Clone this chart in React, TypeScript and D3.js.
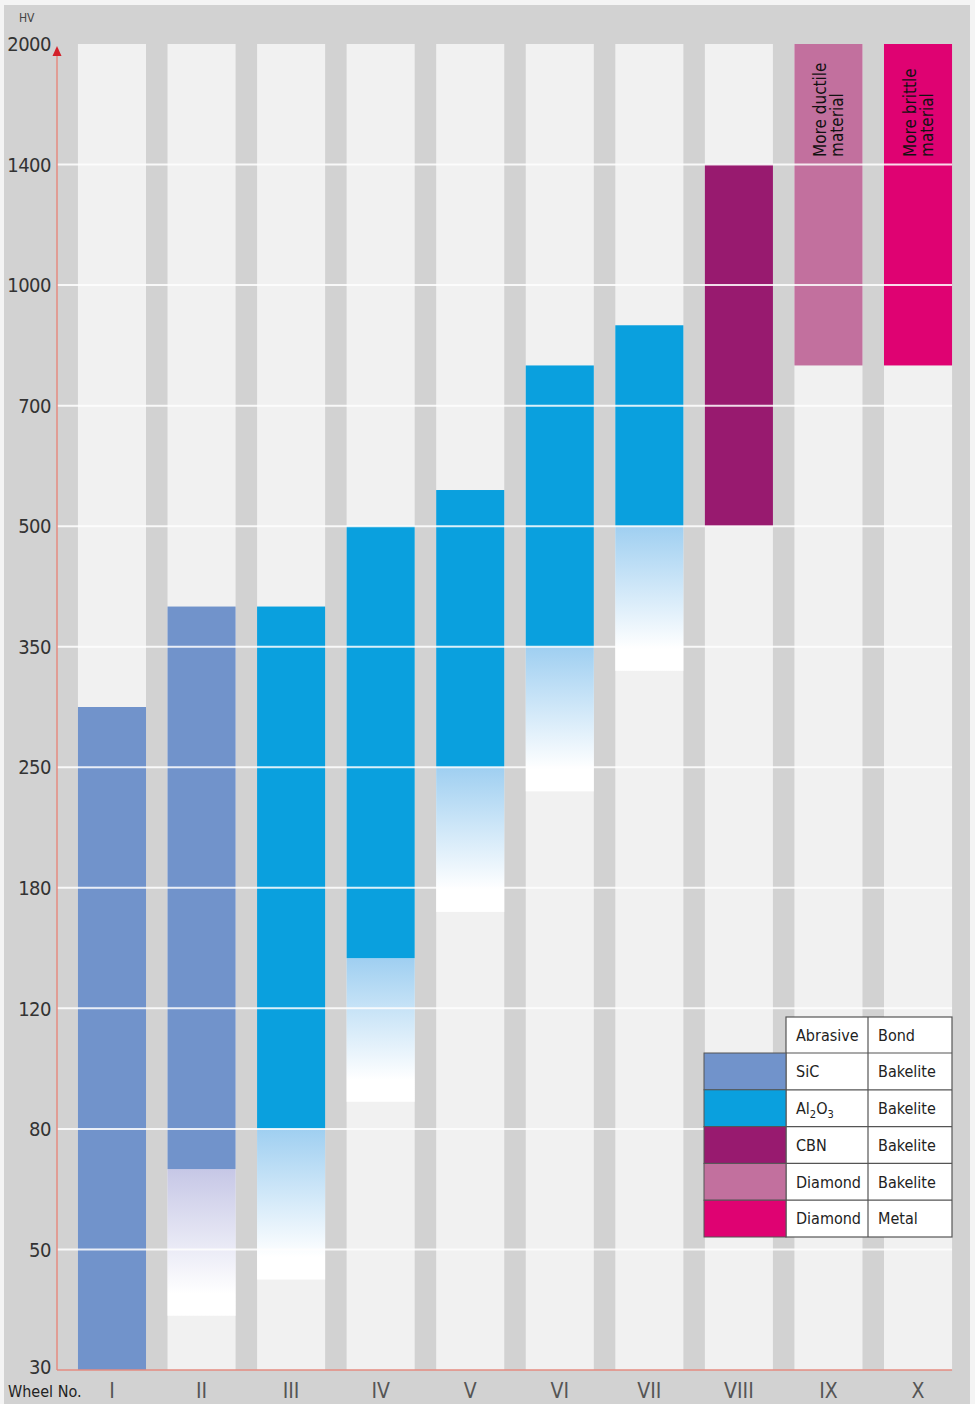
import React from "react";
import * as d3 from "d3";

const wheels = ["I", "II", "III", "IV", "V", "VI", "VII", "VIII", "IX", "X"];
const hvTicks = [30, 50, 80, 120, 180, 250, 350, 500, 700, 1000, 1400, 2000];
const wheelAbrasive = ["SiC", "SiC", "Al2O3", "Al2O3", "Al2O3", "Al2O3", "Al2O3", "CBN", "DiaB", "DiaM"];
const barLow = [30, 70, 80, 145, 250, 350, 500, 500, 800, 800];
const barHigh = [300, 400, 400, 500, 560, 800, 900, 1400, 2000, 2000];
const fadeLow: (number | null)[] = [null, 39, 45, 89, 168, 236, 330, null, null, null];

const legendKeys = ["SiC", "Al2O3", "CBN", "DiaB", "DiaM"];
const legendAbrasive = ["SiC", "Al2O3", "CBN", "Diamond", "Diamond"];
const legendBond = ["Bakelite", "Bakelite", "Bakelite", "Bakelite", "Metal"];

const colors: Record<string, string> = {
  SiC: "#7193cb",
  Al2O3: "#0aa0de",
  CBN: "#981a6f",
  DiaB: "#c2709e",
  DiaM: "#df0272",
};
const fadeColors: Record<string, string> = {
  SiC: "#c6c7e6",
  Al2O3: "#9fcff1",
};

const FONT = "'DejaVu Sans Condensed', 'DejaVu Sans', sans-serif";

export default function App() {
  const W = 975, H = 1404;
  const top = 44, bottom = 1370, axisX = 57;
  const tickPos = d3.scalePoint<number>().domain(hvTicks).range([bottom, top]);
  const y = d3.scaleLinear().domain(hvTicks).range(hvTicks.map((t) => tickPos(t) as number));
  const x = d3.scaleBand<string>().domain(wheels).range([67.2, 962.8]).paddingInner(0.24).paddingOuter(0.12);
  const bw = x.bandwidth();

  const legX0 = 704, legX1 = 786, legX2 = 868, legX3 = 952;
  const legTop = 1017, headerH = 36;
  const legRow = d3.scaleBand<number>().domain(legendKeys.map((_, i) => i)).range([legTop + headerH, 1237]);

  return (
    <svg width={W} height={H} style={{ position: "absolute", left: 0, top: 0, display: "block", fontStretch: "condensed" }} fontFamily={FONT}>
      <defs>
        {wheels.map((w, i) =>
          fadeLow[i] != null ? (
            <linearGradient key={w} id={`fade${i}`} x1="0" y1="0" x2="0" y2="1">
              <stop offset="0" stopColor={fadeColors[wheelAbrasive[i]]} />
              <stop offset="0.85" stopColor="#ffffff" />
              <stop offset="1" stopColor="#ffffff" />
            </linearGradient>
          ) : null
        )}
      </defs>
      <rect x={0} y={0} width={W} height={H} fill="#f4f4f4" />
      <rect x={4} y={5} width={966} height={H - 5} fill="#d2d2d2" />
      {wheels.map((w) => (
        <rect key={w} x={x(w)} y={top} width={bw} height={bottom - top} fill="#f1f1f1" />
      ))}
      {wheels.map((w, i) =>
        fadeLow[i] != null ? (
          <rect key={w} x={x(w)} y={y(barLow[i])} width={bw} height={y(fadeLow[i] as number) - y(barLow[i])} fill={`url(#fade${i})`} />
        ) : null
      )}
      {wheels.map((w, i) => (
        <rect key={w} x={x(w)} y={y(barHigh[i])} width={bw} height={y(barLow[i]) - y(barHigh[i])} fill={colors[wheelAbrasive[i]]} />
      ))}
      {hvTicks.slice(1, -1).map((t) => (
        <line key={t} x1={axisX} x2={x("X")! + bw} y1={y(t)} y2={y(t)} stroke="#ffffff" strokeWidth={2} opacity={0.85} />
      ))}
      <line x1={axisX} x2={axisX} y1={top + 4} y2={bottom} stroke="#e48b80" strokeWidth={1.5} />
      <line x1={axisX} x2={x("X")! + bw} y1={bottom} y2={bottom} stroke="#e48b80" strokeWidth={1.5} />
      <path d={`M${axisX - 4.5},${top + 12} L${axisX},${top + 2} L${axisX + 4.5},${top + 12} Z`} fill="#d3202a" />
      {hvTicks.map((t) => (
        <text key={t} x={51} y={y(t) - (t === 30 ? 3 : 0)} dy="0.36em" textAnchor="end" fontSize={20} fill="#333" letterSpacing={-0.5}>
          {t}
        </text>
      ))}
      <text x={19} y={22} fontSize={12} fill="#444">HV</text>
      <text x={8} y={1397} fontSize={16} fill="#222">Wheel No.</text>
      {wheels.map((w) => (
        <text key={w} x={x(w)! + bw / 2} y={1398} textAnchor="middle" fontSize={21} fill="#555">
          {w}
        </text>
      ))}
      <text transform={`translate(${x("IX")! + bw / 2 - 2},157) rotate(-90)`} fontSize={17} fill="#111">
        <tspan x={0} dy={0}>More ductile</tspan>
        <tspan x={0} dy={17}>material</tspan>
      </text>
      <text transform={`translate(${x("X")! + bw / 2 - 2},157) rotate(-90)`} fontSize={17} fill="#111">
        <tspan x={0} dy={0}>More brittle</tspan>
        <tspan x={0} dy={17}>material</tspan>
      </text>
      <rect x={legX1} y={legTop} width={legX3 - legX1} height={1237 - legTop} fill="#ffffff" stroke="#555" strokeWidth={1.2} />
      <text x={legX1 + 10} y={legTop + headerH / 2} dy="0.36em" fontSize={16} fill="#222">Abrasive</text>
      <text x={legX2 + 10} y={legTop + headerH / 2} dy="0.36em" fontSize={16} fill="#222">Bond</text>
      {legendKeys.map((k, i) => {
        const ry = legRow(i)!;
        const rh = legRow.bandwidth();
        return (
          <g key={i}>
            <rect x={legX0} y={ry} width={legX1 - legX0} height={rh} fill={colors[k]} stroke="#555" strokeWidth={1} />
            <line x1={legX1} x2={legX3} y1={ry} y2={ry} stroke="#555" strokeWidth={1.2} />
            <text x={legX1 + 10} y={ry + rh / 2} dy="0.36em" fontSize={16} fill="#222">
              {legendAbrasive[i] === "Al2O3" ? (
                <>
                  Al<tspan fontSize={11} dy={4}>2</tspan>
                  <tspan dy={-4}>O</tspan>
                  <tspan fontSize={11} dy={4}>3</tspan>
                </>
              ) : (
                legendAbrasive[i]
              )}
            </text>
            <text x={legX2 + 10} y={ry + rh / 2} dy="0.36em" fontSize={16} fill="#222">
              {legendBond[i]}
            </text>
          </g>
        );
      })}
      <line x1={legX2} x2={legX2} y1={legTop} y2={1237} stroke="#555" strokeWidth={1.2} />
    </svg>
  );
}
